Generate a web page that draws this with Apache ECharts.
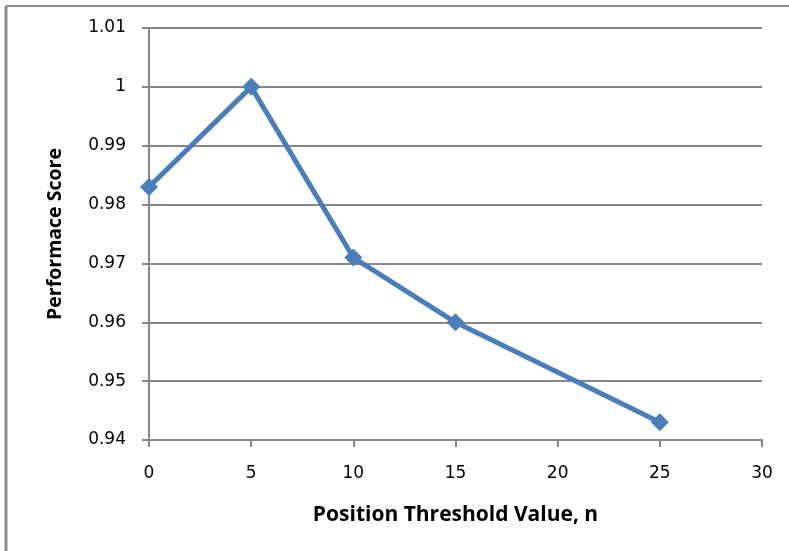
<!DOCTYPE html>
<html><head><meta charset="utf-8">
<script src="https://cdn.jsdelivr.net/npm/echarts@6/dist/echarts.min.js"></script>
<style>html,body{margin:0;padding:0;background:#fff}#c{width:789px;height:551px}</style>
</head><body><div id="c"></div>
<script>
const xValues = [0, 5, 10, 15, 25];
const yValues = [0.983, 1.0, 0.971, 0.96, 0.943];
const xTitle = 'Position Threshold Value, n';
const yTitle = 'Performace Score';
const chart = echarts.init(document.getElementById('c'));
const titleFont = '"Open Sans", "DejaVu Sans", sans-serif';
const tickFont = '"DejaVu Sans", sans-serif';
chart.setOption({
  animation: false,
  grid: {left: 149, right: 27, top: 28, bottom: 111},
  graphic: [
    {type: 'line', shape: {x1: 6, y1: 6, x2: 789, y2: 6}, style: {stroke: '#8c8c8c', lineWidth: 2}},
    {type: 'line', shape: {x1: 6, y1: 6, x2: 6, y2: 551}, style: {stroke: '#8c8c8c', lineWidth: 3}}
  ],
  xAxis: {
    type: 'value', min: 0, max: 30, interval: 5,
    name: xTitle, nameLocation: 'middle', nameGap: 65,
    nameTextStyle: {fontFamily: titleFont, fontWeight: 'bold', fontSize: 21, color: '#000'},
    axisLine: {lineStyle: {color: '#868686', width: 2}},
    axisTick: {show: true, length: 7, lineStyle: {color: '#868686', width: 2}},
    axisLabel: {margin: 25, fontFamily: tickFont, fontSize: 17, color: '#000'},
    splitLine: {show: false}
  },
  yAxis: {
    type: 'value', min: 0.94, max: 1.01, interval: 0.01,
    name: yTitle, nameLocation: 'middle', nameGap: 84,
    nameTextStyle: {fontFamily: titleFont, fontWeight: 'bold', fontSize: 19.5, color: '#000'},
    axisLine: {show: true, lineStyle: {color: '#868686', width: 2}},
    axisTick: {show: true, length: 7, lineStyle: {color: '#868686', width: 2}},
    axisLabel: {margin: 23, fontFamily: tickFont, fontSize: 17, color: '#000',
      formatter: v => String(parseFloat(v.toFixed(2)))},
    splitLine: {show: true, lineStyle: {color: '#868686', width: 2}}
  },
  series: [{
    type: 'line',
    data: xValues.map((x, i) => [x, yValues[i]]),
    lineStyle: {color: '#4a7ebb', width: 5},
    itemStyle: {color: '#4a7ebb'},
    symbol: 'diamond', symbolSize: 18, showSymbol: true
  }]
});
</script></body></html>
